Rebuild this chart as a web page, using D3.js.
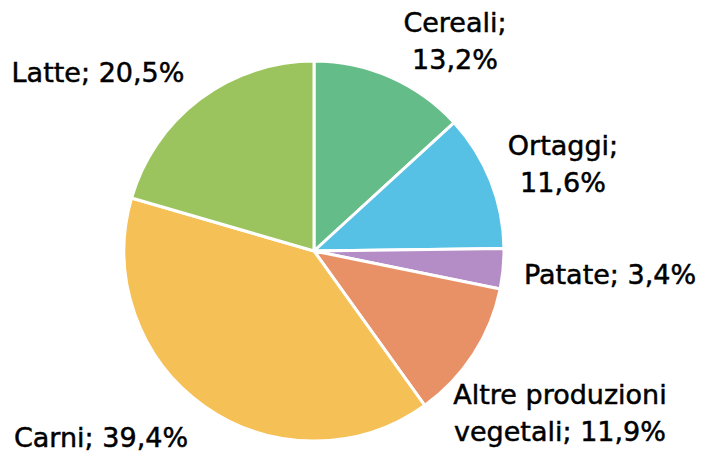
<!DOCTYPE html>
<html><head><meta charset="utf-8">
<script src="https://cdn.jsdelivr.net/npm/d3@7"></script>
<style>body{margin:0;background:#fff}svg{display:block}</style>
</head><body>
<svg id="c" width="702" height="453"></svg>
<script>
const categories = ["Cereali", "Ortaggi", "Patate", "Altre produzioni vegetali", "Carni", "Latte"];
const values = [13.2, 11.6, 3.4, 11.9, 39.4, 20.5];
const labelLines = [["Cereali;", "13,2%"], ["Ortaggi;", "11,6%"], ["Patate; 3,4%"], ["Altre produzioni", "vegetali; 11,9%"], ["Carni; 39,4%"], ["Latte; 20,5%"]];
const colors = ["#64BC89", "#57C0E5", "#B58DC6", "#E99166", "#F5C055", "#9CC45E"];
// label anchor positions (centre x, first baseline y)
const labelPos = [[455, 32], [563, 155], [610, 284], [560, 404], [101, 447], [98, 82]];

const svg = d3.select("#c");
const cx = 314, cy = 251, r = 190;
const g = svg.append("g").attr("transform", `translate(${cx},${cy})`);
const pie = d3.pie().sort(null).value(d => d)(values);
const arc = d3.arc().innerRadius(0).outerRadius(r);
g.selectAll("path").data(pie).join("path")
  .attr("d", arc)
  .attr("fill", (d, i) => colors[i])
  .attr("stroke", "#fff").attr("stroke-width", 3).attr("stroke-linejoin", "round");

const lbl = svg.append("g").attr("font-family", "DejaVu Sans").attr("font-size", 27)
  .attr("fill", "#000").attr("stroke", "#000").attr("stroke-width", 0.5);
labelLines.forEach((lines, i) => {
  const t = lbl.append("text").attr("text-anchor", "middle");
  lines.forEach((s, j) => {
    t.append("tspan").attr("x", labelPos[i][0]).attr("y", labelPos[i][1] + j * 37).text(s);
  });
});
</script>
</body></html>
